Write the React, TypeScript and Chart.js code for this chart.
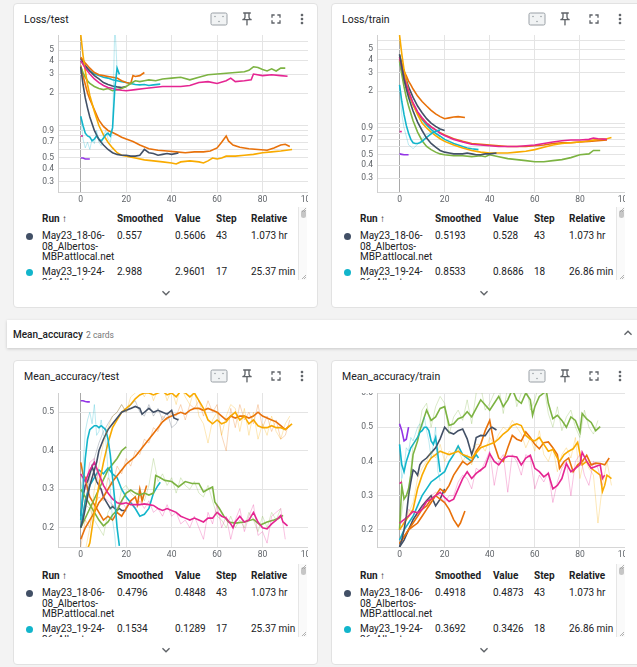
import React, { useEffect, useRef } from "react";
import { Chart, registerables } from "chart.js";
Chart.register(...registerables);

if (typeof document !== "undefined") document.body.style.margin = "0";

// ---------- axis ticks ----------
const X_TICKS = [0, 20, 40, 60, 80, 100];
const LOSS_TICKS = [0.3, 0.4, 0.5, 0.6, 0.7, 0.8, 0.9, 1, 2, 3, 4, 5, 6];
const LOSS_LABELS = [0.3, 0.4, 0.5, 0.7, 0.9, 2, 3, 4, 5];
const ACC_TEST_TICKS = [0.2, 0.3, 0.4, 0.5];
const ACC_TRAIN_TICKS = [0.2, 0.3, 0.4, 0.5, 0.6];

// ---------- shared step lists ----------
const EVEN_0_88 = [0,2,4,6,8,10,12,14,16,18,20,22,24,26,28,30,32,34,36,38,40,42,44,46,48,50,52,54,56,58,60,62,64,66,68,70,72,74,76,78,80,82,84,86,88];
const EVEN_0_90 = [0,2,4,6,8,10,12,14,16,18,20,22,24,26,28,30,32,34,36,38,40,42,44,46,48,50,52,54,56,58,60,62,64,66,68,70,72,74,76,78,80,82,84,86,88,90];
const EVEN_0_92 = [0,2,4,6,8,10,12,14,16,18,20,22,24,26,28,30,32,34,36,38,40,42,44,46,48,50,52,54,56,58,60,62,64,66,68,70,72,74,76,78,80,82,84,86,88,90,92];
const EVEN_0_94 = [0,2,4,6,8,10,12,14,16,18,20,22,24,26,28,30,32,34,36,38,40,42,44,46,48,50,52,54,56,58,60,62,64,66,68,70,72,74,76,78,80,82,84,86,88,90,92,94];
const STEPS_0_4 = [0,1,2,3,4];
const STEPS_0_1 = [0,1];
const STEPS_0_17 = [0,1,2,3,4,5,6,7,8,9,10,11,12,13,14,15,16,17];
const STEPS_0_18 = [0,1,2,3,4,5,6,7,8,9,10,11,12,13,14,15,16,17,18];
const STEPS_0_20 = [0,1,2,3,4,5,6,7,8,9,10,11,12,13,14,15,16,17,18,19,20];

// ---------- Loss/test ----------
const ltA_s = [0,1,2,3,4,6,8,10,12,14,16,18,20,22,24,26,28,30,32,34,36,38,40,43];
const ltA_v = [3.5,2.4,1.8,1.45,1.2,0.9,0.74,0.66,0.6,0.56,0.54,0.53,0.53,0.52,0.52,0.53,0.6,0.56,0.55,0.53,0.54,0.55,0.54,0.557];
const ltA2_s = [0,1,2,3,4,6,8,10,12,14,16,18,20];
const ltA2_v = [4.2,3.9,3.6,3.4,3.2,2.9,2.7,2.5,2.4,2.32,2.28,2.25,2.3];
const ltB_v = [1.22,1.0,0.85,0.8,0.78,0.72,0.75,0.8,0.75,0.72,0.76,0.82,0.85,0.8,0.95,2.2,3.4,2.99];
const ltB_raw = [1.2,0.75,0.62,0.7,0.6,0.75,0.68,0.9,0.7,0.65,0.8,0.9,0.75,0.7,0.9,9,3.3,2.96];
const ltB2_s = [0,2,4,6,8,10,12,14,16,18,20,22,24,26,28,30,32,35];
const ltB2_v = [4.0,3.5,3.2,3.0,2.9,2.8,2.75,2.65,2.6,2.55,2.5,2.45,2.4,2.38,2.4,2.35,2.38,2.42];
const ltC_s = [0,2,4,6,8,10,12,14,16,18,20,24,28,32,36,40,44,48,52,56,60,64,66,68,72,75,76,80,84,88,91];
const ltC_v = [4.0,3.4,3.0,2.7,2.5,2.35,2.25,2.2,2.15,2.12,2.1,2.15,2.2,2.25,2.3,2.3,2.3,2.35,2.5,2.55,2.45,2.6,2.75,2.55,2.6,2.65,3.0,2.9,2.95,2.9,2.86];
const ltC2_v = [0.8,0.8];
const ltD_s = [0,1,2,3,4,5,6,8,10,12,14,16,18,20,24,28,32,36,40,42,44,48,52,54,56,58,60,62,64,68,72,76,80,84,88,93];
const ltD_v = [7.0,4.5,3.2,2.4,1.9,1.6,1.35,1.0,0.82,0.7,0.62,0.56,0.53,0.52,0.5,0.48,0.47,0.46,0.45,0.44,0.46,0.47,0.46,0.45,0.47,0.5,0.49,0.5,0.52,0.52,0.53,0.54,0.56,0.57,0.58,0.6];
const ltE_v = [0.5,0.5,0.49,0.49,0.49];
const ltF_s = [0,1,2,3,4,6,8,10,12,14,16,18,20,22,24,26,28,30,33,36,40,44,48,52,56,60,64,68,72,74,76,78,80,82,84,86,88,90];
const ltF_v = [3.5,3.1,2.8,2.6,2.45,2.3,2.2,2.15,2.2,2.1,2.15,2.2,2.3,2.45,2.6,2.55,2.6,2.65,2.6,2.7,2.75,2.8,2.65,2.8,2.95,3.0,3.05,3.1,3.15,3.25,3.5,3.45,3.3,3.2,3.35,3.2,3.4,3.4];
const ltG_s = [0,2,4,6,8,10,12,14,16,18,20,22,23,24,26,28];
const ltG_v = [4.3,3.8,3.4,3.1,2.95,2.9,2.85,2.8,2.75,2.6,2.5,2.45,2.9,2.85,2.9,3.1];
const ltG2_s = [0,1,2,3,4,6,8,10,12,14,16,18,20,23,26,30,34,38,42,46,50,54,57,60,62,64,65,67,70,74,78,82,85,88,90,92];
const ltG2_v = [3.6,2.9,2.4,2.0,1.75,1.4,1.12,0.98,0.9,0.86,0.82,0.78,0.75,0.71,0.66,0.61,0.59,0.58,0.57,0.56,0.57,0.57,0.58,0.62,0.7,0.8,0.72,0.66,0.63,0.61,0.6,0.59,0.62,0.66,0.67,0.64];

// ---------- Loss/train ----------
const trA_s = [0,1,2,3,4,6,8,10,12,14,16,18,20,22,24,26,28,30,32,34,36,38,40,43];
const trA_v = [4.5,3.4,2.6,2.1,1.75,1.3,1.02,0.85,0.72,0.64,0.59,0.55,0.53,0.52,0.51,0.51,0.51,0.52,0.51,0.5,0.5,0.51,0.51,0.52];
const trA2_s = [0,2,4,6,8,10,12,14,16,18,20];
const trA2_v = [4.4,3.0,2.2,1.75,1.45,1.25,1.1,1.0,0.93,0.88,0.85];
const trB_v = [2.3,1.6,1.2,0.95,0.8,0.7,0.65,0.64,0.64,0.65,0.67,0.7,0.73,0.76,0.79,0.82,0.83,0.85,0.853];
const trB_raw = [2.3,1.2,0.9,0.75,0.62,0.6,0.57,0.6,0.63,0.66,0.7,0.75,0.78,0.8,0.83,0.85,0.84,0.86,0.8686];
const trB2_s = [0,2,4,6,8,10,12,14,16,18,20,22,24,26,28,30,32,35];
const trB2_v = [3.8,2.6,1.9,1.5,1.25,1.08,0.96,0.87,0.8,0.75,0.7,0.67,0.64,0.62,0.6,0.58,0.57,0.56];
const trC_s = [0,2,4,6,8,10,12,14,16,18,20,24,28,32,36,40,44,48,52,56,60,64,68,72,76,80,84,86,88,92];
const trC_v = [4.2,2.7,2.0,1.55,1.28,1.12,1.0,0.92,0.86,0.8,0.76,0.7,0.66,0.63,0.62,0.61,0.6,0.6,0.6,0.61,0.62,0.64,0.66,0.68,0.69,0.69,0.7,0.72,0.71,0.7];
const trC2_v = [0.83,0.83];
const trD_s = [0,1,2,3,4,6,8,10,12,14,16,18,20,24,28,32,36,40,44,48,52,56,60,64,68,72,76,80,84,88,92,94];
const trD_v = [6.8,4.5,3.2,2.5,2.0,1.5,1.2,1.0,0.9,0.82,0.76,0.71,0.67,0.62,0.58,0.55,0.53,0.52,0.52,0.52,0.53,0.54,0.56,0.59,0.62,0.64,0.65,0.66,0.68,0.7,0.71,0.73];
const trE_v = [0.51,0.505,0.5,0.5,0.5];
const trF_s = [0,1,2,3,4,6,8,10,12,14,16,18,20,24,28,32,36,38,40,44,48,52,56,60,64,68,72,76,80,84,86,89];
const trF_v = [3.9,2.9,2.2,1.75,1.45,1.05,0.82,0.68,0.6,0.56,0.53,0.51,0.5,0.49,0.49,0.48,0.49,0.48,0.5,0.48,0.46,0.45,0.44,0.43,0.43,0.44,0.45,0.47,0.5,0.51,0.55,0.55];
const trG_s = [0,1,2,3,4,5,6,8,10,12,14,16,18,20,22,24,26,29];
const trG_v = [4.2,3.6,3.1,2.8,2.5,2.3,2.1,1.8,1.6,1.45,1.32,1.22,1.15,1.1,1.12,1.14,1.15,1.13];
const trG2_s = [0,2,4,6,8,10,12,14,16,18,20,24,28,32,36,40,44,48,52,56,60,64,68,72,76,80,84,88,92];
const trG2_v = [4.0,2.6,1.9,1.5,1.25,1.1,1.0,0.92,0.86,0.81,0.77,0.71,0.67,0.64,0.63,0.62,0.61,0.6,0.6,0.6,0.61,0.62,0.64,0.65,0.65,0.66,0.67,0.68,0.69];

// ---------- Mean_accuracy/test ----------
const atA_s = [0,1,2,3,4,5,6,7,8,10,12,14,16,18,20,22,24,26,27,28,30,32,34,36,38,40,41,43];
const atA_v = [0.2,0.22,0.25,0.28,0.31,0.33,0.35,0.37,0.4,0.43,0.455,0.47,0.485,0.5,0.505,0.51,0.515,0.51,0.495,0.5,0.51,0.5,0.505,0.5,0.495,0.505,0.485,0.48];
const atA_raw_s = [0,2,4,6,8,10,12,14,16,18,20,22,24,26,28,30,32,34,36,38,40,42,43];
const atA_raw = [0.2,0.27,0.33,0.38,0.42,0.45,0.47,0.49,0.5,0.52,0.5,0.52,0.53,0.5,0.49,0.52,0.49,0.51,0.48,0.5,0.46,0.47,0.4848];
const atA2_v = [0.23,0.28,0.31,0.32,0.34,0.36,0.34,0.32,0.31,0.3,0.28,0.27,0.26,0.25,0.255,0.25,0.245,0.25,0.245,0.245,0.245];
const atB_v = [0.22,0.3,0.38,0.43,0.455,0.46,0.465,0.465,0.46,0.465,0.46,0.455,0.43,0.39,0.33,0.27,0.2,0.153];
const atB_raw = [0.22,0.36,0.45,0.48,0.5,0.47,0.52,0.44,0.45,0.48,0.44,0.43,0.35,0.3,0.22,0.18,0.1,0.1289];
const atB2_s = [0,2,4,6,8,10,12,14,16,18,20,22,24,26,28,30,32,34,35];
const atB2_v = [0.2,0.27,0.31,0.33,0.35,0.34,0.355,0.34,0.33,0.3,0.28,0.265,0.25,0.23,0.235,0.25,0.29,0.31,0.318];
const atC_s = [0,2,4,6,8,10,12,14,16,18,20,22,24,26,28,30,32,34,36,38,40,42,44,46,48,50,52,54,56,58,60,62,64,66,67,68,70,72,74,76,78,80,82,84,86,88,89,91];
const atC_v = [0.34,0.32,0.35,0.37,0.34,0.31,0.29,0.275,0.265,0.262,0.265,0.26,0.26,0.26,0.262,0.26,0.258,0.25,0.245,0.25,0.245,0.24,0.23,0.225,0.22,0.225,0.22,0.215,0.225,0.225,0.24,0.23,0.225,0.21,0.2,0.215,0.23,0.215,0.22,0.24,0.215,0.2,0.197,0.21,0.22,0.232,0.215,0.205];
const atC_raw = [0.34,0.3,0.37,0.38,0.31,0.28,0.27,0.26,0.25,0.27,0.25,0.27,0.25,0.27,0.25,0.27,0.24,0.25,0.23,0.26,0.23,0.24,0.21,0.22,0.2,0.23,0.2,0.17,0.24,0.21,0.26,0.2,0.23,0.17,0.22,0.25,0.19,0.23,0.26,0.18,0.19,0.16,0.23,0.24,0.25,0.17];
const atD_s = [0,2,4,6,8,10,12,14,16,18,20,22,24,26,28,30,32,34,36,38,40,42,44,46,48,50,52,54,56,58,60,62,64,66,68,70,72,74,76,78,80,82,84,86,88,90,92,93];
const atD_v = [0.12,0.13,0.16,0.24,0.31,0.37,0.42,0.46,0.48,0.5,0.51,0.52,0.535,0.545,0.55,0.55,0.545,0.55,0.555,0.545,0.55,0.54,0.555,0.55,0.54,0.55,0.53,0.51,0.48,0.47,0.48,0.47,0.475,0.49,0.5,0.48,0.49,0.47,0.48,0.465,0.46,0.46,0.465,0.46,0.46,0.455,0.465,0.47];
const atD_raw = [0.1,0.14,0.2,0.3,0.36,0.42,0.46,0.49,0.5,0.52,0.5,0.54,0.55,0.56,0.54,0.57,0.53,0.56,0.57,0.53,0.56,0.52,0.57,0.54,0.52,0.56,0.49,0.47,0.42,0.48,0.5,0.44,0.49,0.52,0.51,0.45,0.51,0.44,0.5,0.43,0.47,0.44,0.49,0.45,0.43,0.47,0.49];
const atE_v = [0.53,0.53,0.528,0.527,0.527];
const atF_s = [0,2,4,6,8,10,12,14,16,18,20,22,24,26,28,30,32,33,35,37,40,43,46,49,52,54,56,58,59,61,63,65,68,72,76,79,82,85,87,89];
const atF_v = [0.3,0.28,0.26,0.24,0.22,0.205,0.215,0.233,0.245,0.27,0.29,0.298,0.29,0.285,0.29,0.285,0.29,0.336,0.33,0.323,0.32,0.306,0.32,0.315,0.315,0.293,0.3,0.306,0.267,0.25,0.23,0.215,0.212,0.215,0.222,0.207,0.215,0.22,0.224,0.232];
const atF_raw = [0.32,0.26,0.25,0.22,0.2,0.18,0.24,0.26,0.24,0.3,0.31,0.29,0.28,0.3,0.27,0.31,0.38,0.32,0.34,0.31,0.33,0.29,0.33,0.31,0.3,0.32,0.29,0.28,0.31,0.27,0.23,0.22,0.2,0.23,0.2,0.22,0.2,0.24,0.22,0.19,0.23,0.2,0.24,0.22,0.25];
const atF2_s = [0,4,8,12,16,18,20];
const atF2_v = [0.2,0.25,0.3,0.35,0.38,0.4,0.41];
const atG_v = [0.17,0.2,0.22,0.24,0.265,0.28,0.3,0.32,0.335,0.35,0.365,0.375,0.385,0.4,0.415,0.43,0.445,0.46,0.475,0.485,0.49,0.495,0.5,0.495,0.505,0.51,0.51,0.505,0.51,0.505,0.5,0.49,0.48,0.49,0.485,0.49,0.49,0.485,0.49,0.5,0.49,0.485,0.48,0.475,0.465,0.455,0.465];
const atG_raw = [0.15,0.22,0.2,0.26,0.28,0.27,0.33,0.31,0.36,0.34,0.38,0.36,0.4,0.39,0.43,0.42,0.46,0.45,0.49,0.48,0.5,0.49,0.52,0.48,0.52,0.51,0.53,0.49,0.53,0.5,0.52,0.44,0.4,0.51,0.46,0.52,0.48,0.5,0.47,0.52,0.46,0.49,0.45,0.48,0.43,0.44,0.48];
const atG2_s = [0,1,2,3,4,6,8,10,12,14,16,18,20,22,24,25,26,27,28,29];
const atG2_v = [0.37,0.34,0.33,0.3,0.28,0.26,0.24,0.22,0.23,0.22,0.24,0.23,0.25,0.27,0.28,0.26,0.3,0.27,0.29,0.31];

// ---------- Mean_accuracy/train ----------
const arA_s = [0,1,2,3,4,5,6,7,8,9,10,12,14,16,18,20,22,24,26,28,30,32,33,34,36,38,40,41,43];
const arA_v = [0.15,0.17,0.2,0.24,0.3,0.34,0.375,0.37,0.36,0.39,0.4,0.41,0.425,0.44,0.466,0.5,0.485,0.48,0.49,0.495,0.466,0.42,0.44,0.47,0.476,0.475,0.495,0.5,0.492];
const arA2_s = [0,2,4,6,8,10,12,14,16,18,20];
const arA2_v = [0.15,0.17,0.2,0.23,0.25,0.27,0.285,0.3,0.27,0.29,0.32];
const arB_v = [0.45,0.39,0.37,0.4,0.42,0.44,0.45,0.46,0.47,0.485,0.49,0.5,0.5,0.49,0.46,0.45,0.47,0.42,0.369];
const arB_raw = [0.45,0.35,0.38,0.44,0.43,0.47,0.46,0.48,0.5,0.51,0.5,0.53,0.49,0.46,0.41,0.45,0.5,0.37,0.3426];
const arB2_s = [0,2,4,6,8,10,12,14,16,18,20,22,24,26,28,30,32,34,35];
const arB2_v = [0.17,0.2,0.22,0.24,0.27,0.3,0.32,0.34,0.35,0.36,0.37,0.4,0.42,0.445,0.42,0.41,0.4,0.42,0.41];
const arC_s = [0,2,4,6,8,10,12,14,16,18,20,22,24,26,28,30,32,34,36,38,40,42,44,46,48,50,52,54,56,58,60,62,64,66,68,70,72,74,76,78,80,81,83,85,87,89,90,91];
const arC_v = [0.22,0.23,0.24,0.254,0.25,0.26,0.283,0.29,0.3,0.31,0.295,0.283,0.29,0.32,0.35,0.37,0.35,0.365,0.375,0.385,0.423,0.4,0.39,0.408,0.415,0.415,0.413,0.39,0.41,0.418,0.38,0.37,0.355,0.365,0.32,0.33,0.35,0.394,0.37,0.38,0.39,0.427,0.4,0.38,0.385,0.39,0.35,0.36];
const arC_raw = [0.22,0.22,0.26,0.25,0.24,0.27,0.29,0.3,0.31,0.3,0.28,0.3,0.3,0.34,0.36,0.35,0.32,0.38,0.37,0.4,0.43,0.33,0.4,0.42,0.31,0.42,0.4,0.36,0.42,0.41,0.32,0.36,0.34,0.37,0.28,0.34,0.38,0.4,0.3,0.4,0.42,0.36,0.33,0.4,0.38,0.33];
const arC2_v = [0.335,0.34];
const arD_s = [0,2,4,6,8,10,12,14,16,18,20,22,24,26,28,30,32,34,36,38,40,42,44,46,48,50,52,54,56,58,60,62,64,66,68,70,71,73,75,77,79,81,83,85,87,89,90,91,92,94];
const arD_v = [0.2,0.22,0.24,0.26,0.32,0.36,0.39,0.41,0.42,0.43,0.425,0.42,0.425,0.43,0.42,0.415,0.41,0.425,0.44,0.445,0.45,0.455,0.466,0.48,0.49,0.505,0.51,0.505,0.476,0.465,0.46,0.47,0.45,0.43,0.435,0.41,0.4,0.42,0.43,0.437,0.456,0.39,0.4,0.38,0.37,0.36,0.312,0.33,0.36,0.35];
const arD_raw = [0.2,0.22,0.25,0.28,0.35,0.38,0.4,0.43,0.41,0.45,0.4,0.43,0.42,0.44,0.4,0.42,0.39,0.45,0.45,0.43,0.47,0.45,0.48,0.5,0.49,0.52,0.5,0.48,0.44,0.47,0.43,0.49,0.42,0.4,0.44,0.37,0.42,0.44,0.41,0.47,0.35,0.41,0.38,0.36,0.22,0.33,0.4,0.33];
const arE_v = [0.51,0.49,0.46,0.465,0.5];
const arF_s = [0,1,2,3,4,5,6,7,8,9,10,12,14,16,18,20,22,24,26,28,30,32,34,36,38,40,42,44,46,48,50,52,54,56,58,59,60,62,64,65,66,68,70,72,74,76,78,80,81,83,85,87,89];
const arF_v = [0.2,0.33,0.29,0.3,0.32,0.36,0.42,0.44,0.46,0.49,0.51,0.55,0.52,0.53,0.555,0.56,0.505,0.51,0.525,0.53,0.545,0.53,0.555,0.58,0.565,0.55,0.57,0.59,0.56,0.58,0.61,0.58,0.57,0.6,0.58,0.535,0.56,0.59,0.6,0.61,0.57,0.525,0.535,0.52,0.5,0.53,0.52,0.486,0.54,0.524,0.514,0.49,0.502];
const arF_raw = [0.2,0.3,0.3,0.45,0.47,0.55,0.57,0.5,0.56,0.59,0.57,0.48,0.53,0.55,0.52,0.58,0.51,0.6,0.62,0.55,0.57,0.6,0.62,0.54,0.62,0.64,0.56,0.6,0.63,0.55,0.58,0.63,0.62,0.54,0.5,0.56,0.49,0.53,0.55,0.5,0.47,0.55,0.5,0.48,0.52];
const arG_s = [0,2,4,6,8,10,12,14,16,18,20,22,24,26,28,30,32,34,36,38,40,42,44,46,48,50,52,54,56,58,60,62,64,66,68,70,71,73,75,77,79,81,83,85,87,89,91,93];
const arG_v = [0.16,0.18,0.2,0.21,0.22,0.24,0.26,0.28,0.3,0.32,0.31,0.33,0.36,0.38,0.4,0.39,0.4,0.43,0.45,0.49,0.52,0.45,0.41,0.4,0.44,0.476,0.465,0.46,0.486,0.47,0.45,0.437,0.455,0.457,0.44,0.42,0.38,0.4,0.41,0.37,0.39,0.4,0.418,0.39,0.395,0.394,0.39,0.41];
const arG2_s = [0,2,4,6,8,10,12,14,16,18,20,22,24,26,27,29];
const arG2_v = [0.16,0.18,0.2,0.22,0.24,0.26,0.27,0.29,0.3,0.29,0.28,0.26,0.23,0.21,0.22,0.255];

// ---------- legend table ----------
const RUN_NAMES = ["May23_18-06-", "08_Albertos-", "MBP.attlocal.net"];
const RUN2_NAMES = ["May23_19-24-", "36_Albertos-"];
const TABLE_HEAD = ["Run \u2191", "Smoothed", "Value", "Step", "Relative"];
const LT_ROWS = [["0.557", "0.5606", "43", "1.073 hr"], ["2.988", "2.9601", "17", "25.37 min"]];
const TR_ROWS = [["0.5193", "0.528", "43", "1.073 hr"], ["0.8533", "0.8686", "18", "26.86 min"]];
const AT_ROWS = [["0.4796", "0.4848", "43", "1.073 hr"], ["0.1534", "0.1289", "17", "25.37 min"]];
const AR_ROWS = [["0.4918", "0.4873", "43", "1.073 hr"], ["0.3692", "0.3426", "18", "26.86 min"]];

// ---------- styling ----------
const C = {
  slate: "#425066", cyan: "#12b5cb", magenta: "#e52592", yellow: "#f9ab00",
  purple: "#9334e6", green: "#7cb342", orange: "#e8710a",
};

type S = { c: string; s: number[]; v: number[]; raw?: boolean };

const LOSS_TEST: S[] = [
  { c: C.cyan, s: STEPS_0_17, v: ltB_raw, raw: true },
  { c: C.slate, s: ltA_s, v: ltA_v },
  { c: C.cyan, s: STEPS_0_17, v: ltB_v },
  { c: C.magenta, s: ltC_s, v: ltC_v },
  { c: C.magenta, s: STEPS_0_1, v: ltC2_v },
  { c: C.yellow, s: ltD_s, v: ltD_v },
  { c: C.purple, s: STEPS_0_4, v: ltE_v },
  { c: C.green, s: ltF_s, v: ltF_v },
  { c: C.orange, s: ltG_s, v: ltG_v },
  { c: C.orange, s: ltG2_s, v: ltG2_v },
  { c: C.slate, s: ltA2_s, v: ltA2_v },
  { c: C.cyan, s: ltB2_s, v: ltB2_v },
];
const LOSS_TRAIN: S[] = [
  { c: C.cyan, s: STEPS_0_18, v: trB_raw, raw: true },
  { c: C.slate, s: trA_s, v: trA_v },
  { c: C.cyan, s: STEPS_0_18, v: trB_v },
  { c: C.magenta, s: trC_s, v: trC_v },
  { c: C.magenta, s: STEPS_0_1, v: trC2_v },
  { c: C.yellow, s: trD_s, v: trD_v },
  { c: C.purple, s: STEPS_0_4, v: trE_v },
  { c: C.green, s: trF_s, v: trF_v },
  { c: C.orange, s: trG_s, v: trG_v },
  { c: C.orange, s: trG2_s, v: trG2_v },
  { c: C.slate, s: trA2_s, v: trA2_v },
  { c: C.cyan, s: trB2_s, v: trB2_v },
];
const ACC_TEST: S[] = [
  { c: C.slate, s: atA_raw_s, v: atA_raw, raw: true },
  { c: C.cyan, s: STEPS_0_17, v: atB_raw, raw: true },
  { c: C.magenta, s: EVEN_0_90, v: atC_raw, raw: true },
  { c: C.yellow, s: EVEN_0_92, v: atD_raw, raw: true },
  { c: C.green, s: EVEN_0_88, v: atF_raw, raw: true },
  { c: C.orange, s: EVEN_0_92, v: atG_raw, raw: true },
  { c: C.slate, s: atA_s, v: atA_v },
  { c: C.cyan, s: STEPS_0_17, v: atB_v },
  { c: C.magenta, s: atC_s, v: atC_v },
  { c: C.yellow, s: atD_s, v: atD_v },
  { c: C.purple, s: STEPS_0_4, v: atE_v },
  { c: C.green, s: atF_s, v: atF_v },
  { c: C.green, s: atF2_s, v: atF2_v },
  { c: C.orange, s: EVEN_0_92, v: atG_v },
  { c: C.orange, s: atG2_s, v: atG2_v },
  { c: C.slate, s: STEPS_0_20, v: atA2_v },
  { c: C.cyan, s: atB2_s, v: atB2_v },
];
const ACC_TRAIN: S[] = [
  { c: C.cyan, s: STEPS_0_18, v: arB_raw, raw: true },
  { c: C.magenta, s: EVEN_0_90, v: arC_raw, raw: true },
  { c: C.yellow, s: EVEN_0_94, v: arD_raw, raw: true },
  { c: C.green, s: EVEN_0_88, v: arF_raw, raw: true },
  { c: C.slate, s: arA_s, v: arA_v },
  { c: C.cyan, s: STEPS_0_18, v: arB_v },
  { c: C.magenta, s: arC_s, v: arC_v },
  { c: C.magenta, s: STEPS_0_1, v: arC2_v },
  { c: C.yellow, s: arD_s, v: arD_v },
  { c: C.purple, s: STEPS_0_4, v: arE_v },
  { c: C.green, s: arF_s, v: arF_v },
  { c: C.orange, s: arG_s, v: arG_v },
  { c: C.orange, s: arG2_s, v: arG2_v },
  { c: C.slate, s: arA2_s, v: arA2_v },
  { c: C.cyan, s: arB2_s, v: arB2_v },
];

function rgba(hex: string, a: number) {
  const n = parseInt(hex.slice(1), 16);
  return `rgba(${(n >> 16) & 255},${(n >> 8) & 255},${n & 255},${a})`;
}

const TICK_FONT = { family: "Roboto", size: 8.5 };
const TICK_COLOR = "#5f6368";

type ChartProps = {
  left: number; top: number; pw: number; ph: number;
  log: boolean; yMin: number; yMax: number; yTicks: number[]; yLabels: number[];
  series: S[];
};

function LineChart(p: ChartProps) {
  const ref = useRef<HTMLCanvasElement>(null);
  const YW = 40, XH = 14;
  const w = YW + p.pw, h = p.ph + XH;
  useEffect(() => {
    const chart = new Chart(ref.current as HTMLCanvasElement, {
      type: "line",
      data: {
        datasets: p.series.map((s) => ({
          data: s.s.map((x, i) => ({ x, y: s.v[i] })),
          borderColor: s.raw ? rgba(s.c, 0.28) : s.c,
          borderWidth: s.raw ? 1 : 1.6,
          pointRadius: 0,
          fill: false,
          tension: 0,
        })),
      },
      options: {
        animation: false,
        responsive: false,
        maintainAspectRatio: false,
        events: [],
        layout: { padding: 0 },
        plugins: { legend: { display: false }, tooltip: { enabled: false } },
        scales: {
          x: {
            type: "linear", min: -10, max: 100,
            afterBuildTicks: (sc: any) => { sc.ticks = X_TICKS.map((value) => ({ value })); },
            afterFit: (sc: any) => { sc.height = XH; sc.paddingLeft = 0; sc.paddingRight = 0; },
            grid: {
              color: (ctx: any) => (ctx.tick && ctx.tick.value === 0 ? "#a9a9a9" : "#e4e4e4"),
              drawTicks: false, lineWidth: 1,
            },
            border: { display: true, color: "#d6d6d6" },
            ticks: {
              autoSkip: false, maxRotation: 0, padding: 3, color: TICK_COLOR, font: TICK_FONT,
              callback: (v: any) => String(v),
            },
          },
          y: {
            type: p.log ? "logarithmic" : "linear", min: p.yMin, max: p.yMax,
            afterBuildTicks: (sc: any) => { sc.ticks = p.yTicks.map((value) => ({ value })); },
            afterFit: (sc: any) => { sc.width = YW; sc.paddingTop = 0; sc.paddingBottom = 0; },
            grid: { color: "#e4e4e4", drawTicks: false, lineWidth: 1 },
            border: { display: true, color: "#cfcfcf" },
            ticks: {
              autoSkip: false, padding: 4, color: TICK_COLOR, font: TICK_FONT,
              callback: (v: any) => (p.yLabels.some((l) => Math.abs(l - v) < 1e-9) ? String(v) : ""),
            },
          },
        },
      } as any,
    });
    return () => chart.destroy();
  }, []);
  return (
    <canvas ref={ref} width={w} height={h}
      style={{ position: "absolute", left: p.left - YW, top: p.top, width: w, height: h }} />
  );
}

const ICON_COLOR = "#5f6368";
function Icons({ x, y }: { x: number; y: number }) {
  return (
    <>
      <svg width={18} height={14} style={{ position: "absolute", left: x + 197, top: y + 9 }} viewBox="0 0 18 14">
        <rect x={1} y={1} width={16} height={12} rx={1.5} fill="#f1f3f4" stroke="#9aa0a6" strokeWidth={1} />
        <circle cx={5} cy={4.5} r={0.8} fill="#9aa0a6" />
        <circle cx={13} cy={4.5} r={0.8} fill="#9aa0a6" />
        <circle cx={9} cy={9.5} r={0.8} fill="#9aa0a6" />
      </svg>
      <svg width={16} height={16} style={{ position: "absolute", left: x + 226, top: y + 8 }} viewBox="0 0 24 24">
        <path fill={ICON_COLOR} d="M14 4v5c0 1.12.37 2.16 1 3H9c.65-.86 1-1.9 1-3V4h4m3-2H7c-.55 0-1 .45-1 1s.45 1 1 1h1v5c0 1.66-1.34 3-3 3v2h5.97v7l1 1 1-1v-7H19v-2c-1.66 0-3-1.34-3-3V4h1c.55 0 1-.45 1-1s-.45-1-1-1z" />
      </svg>
      <svg width={16} height={16} style={{ position: "absolute", left: x + 255, top: y + 8 }} viewBox="0 0 24 24">
        <path fill={ICON_COLOR} d="M7 14H5v5h5v-2H7v-3zm-2-4h2V7h3V5H5v5zm12 7h-3v2h5v-5h-2v3zM14 5v2h3v3h2V5h-5z" />
      </svg>
      <svg width={16} height={16} style={{ position: "absolute", left: x + 281, top: y + 8 }} viewBox="0 0 24 24">
        <path fill={ICON_COLOR} d="M12 8c1.1 0 2-.9 2-2s-.9-2-2-2-2 .9-2 2 .9 2 2 2zm0 2c-1.1 0-2 .9-2 2s.9 2 2 2 2-.9 2-2-.9-2-2-2zm0 6c-1.1 0-2 .9-2 2s.9 2 2 2 2-.9 2-2-.9-2-2-2z" />
      </svg>
    </>
  );
}

function Txt({ x, y, s, size = 10, weight = 400, color = "#202124" }: any) {
  const lh = 12;
  return (
    <div style={{
      position: "absolute", left: x, top: y - lh / 2, lineHeight: lh + "px", fontSize: size,
      fontWeight: weight, color, whiteSpace: "nowrap",
    }}>{s}</div>
  );
}

function Table({ x, y, rows }: { x: number; y: number; rows: string[][] }) {
  const ox = 8, oy = 204;
  const cols = [29, 104, 162, 203, 238].map((c) => c - ox);
  return (
    <>
      <div style={{ position: "absolute", left: x + ox, top: y + oy, width: 277, height: 73, overflow: "hidden" }}>
        {TABLE_HEAD.map((h, i) => <Txt key={h} x={cols[i]} y={12.3} s={h} weight={700} />)}
        <div style={{ position: "absolute", left: 16 - ox - 3.5, top: 29 - 3.5, width: 7, height: 7, borderRadius: 4, background: C.slate }} />
        {RUN_NAMES.map((n, i) => <Txt key={n} x={cols[0]} y={29 + i * 10.7} s={n} />)}
        {rows[0].map((v, i) => <Txt key={"a" + i} x={cols[i + 1]} y={29} s={v} />)}
        <div style={{ position: "absolute", left: 16 - ox - 3.5, top: 65.3 - 3.5, width: 7, height: 7, borderRadius: 4, background: C.cyan }} />
        {RUN2_NAMES.map((n, i) => <Txt key={n} x={cols[0]} y={65.3 + i * 10.7} s={n} />)}
        {rows[1].map((v, i) => <Txt key={"b" + i} x={cols[i + 1]} y={65.3} s={v} />)}
      </div>
      <div style={{ position: "absolute", left: x + 285, top: y + 204, width: 9, height: 73, borderLeft: "1px solid #e6e6e6", background: "#fafafa", boxSizing: "border-box" }} />
      <div style={{ position: "absolute", left: x + 287.5, top: y + 207, width: 5, height: 8, borderRadius: 3, background: "#c6c6c6" }} />
      <svg width={9} height={73} style={{ position: "absolute", left: x + 285, top: y + 204 }}>
        <line x1={4} y1={5} x2={8} y2={1} stroke="#9e9e9e" strokeWidth={0.8} />
        <line x1={6} y1={5} x2={8} y2={3} stroke="#9e9e9e" strokeWidth={0.8} />
        <line x1={4} y1={72} x2={8} y2={68} stroke="#9e9e9e" strokeWidth={0.8} />
        <line x1={6} y1={72} x2={8} y2={70} stroke="#9e9e9e" strokeWidth={0.8} />
      </svg>
      <svg width={16} height={16} style={{ position: "absolute", left: x + 145, top: y + 282 }} viewBox="0 0 24 24">
        <path fill={ICON_COLOR} d="M16.59 8.59L12 13.17 7.41 8.59 6 10l6 6 6-6z" />
      </svg>
    </>
  );
}

function Card({ x, y, w, title }: { x: number; y: number; w: number; title: string }) {
  return (
    <>
      <div style={{ position: "absolute", left: x, top: y, width: w, height: 305, background: "#fff", border: "1px solid #e2e2e2", borderRadius: 4, boxSizing: "border-box" }} />
      <Txt x={x + 11} y={y + 16.5} s={title} size={10.5} />
      <Icons x={x} y={y} />
    </>
  );
}

export default function App() {
  useEffect(() => { document.body.style.margin = "0"; }, []);
  return (
    <div style={{ position: "relative", width: 637, height: 667, overflow: "hidden", background: "#f3f3f3", fontFamily: "Roboto, 'Noto Sans', sans-serif" }}>
      <Card x={13} y={3} w={305} title="Loss/test" />
      <Card x={331} y={3} w={312} title="Loss/train" />
      <LineChart left={58} top={35} pw={250} ph={157} log yMin={0.242} yMax={6.9} yTicks={LOSS_TICKS} yLabels={LOSS_LABELS} series={LOSS_TEST} />
      <LineChart left={377} top={35} pw={248} ph={157} log yMin={0.222} yMax={6.83} yTicks={LOSS_TICKS} yLabels={LOSS_LABELS} series={LOSS_TRAIN} />
      <Table x={13} y={3} rows={LT_ROWS} />
      <Table x={331} y={3} rows={TR_ROWS} />

      <div style={{ position: "absolute", left: 7, top: 320, width: 640, height: 28, background: "#fff", boxShadow: "0 1px 3px rgba(0,0,0,0.18)" }} />
      <Txt x={13} y={334.5} s="Mean_accuracy" size={10} weight={500} />
      <Txt x={86} y={335} s="2 cards" size={8.5} color="#757575" />
      <svg width={16} height={16} style={{ position: "absolute", left: 620, top: 325 }} viewBox="0 0 24 24">
        <path fill={ICON_COLOR} d="M12 8l-6 6 1.41 1.41L12 10.83l4.59 4.58L18 14z" />
      </svg>

      <Card x={13} y={360} w={305} title="Mean_accuracy/test" />
      <Card x={331} y={360} w={312} title="Mean_accuracy/train" />
      <LineChart left={58} top={393} pw={250} ph={154} log={false} yMin={0.15} yMax={0.55} yTicks={ACC_TEST_TICKS} yLabels={ACC_TEST_TICKS} series={ACC_TEST} />
      <LineChart left={377} top={393} pw={248} ph={154} log={false} yMin={0.15} yMax={0.6} yTicks={ACC_TRAIN_TICKS} yLabels={ACC_TRAIN_TICKS} series={ACC_TRAIN} />
      <Table x={13} y={360} rows={AT_ROWS} />
      <Table x={331} y={360} rows={AR_ROWS} />
    </div>
  );
}
